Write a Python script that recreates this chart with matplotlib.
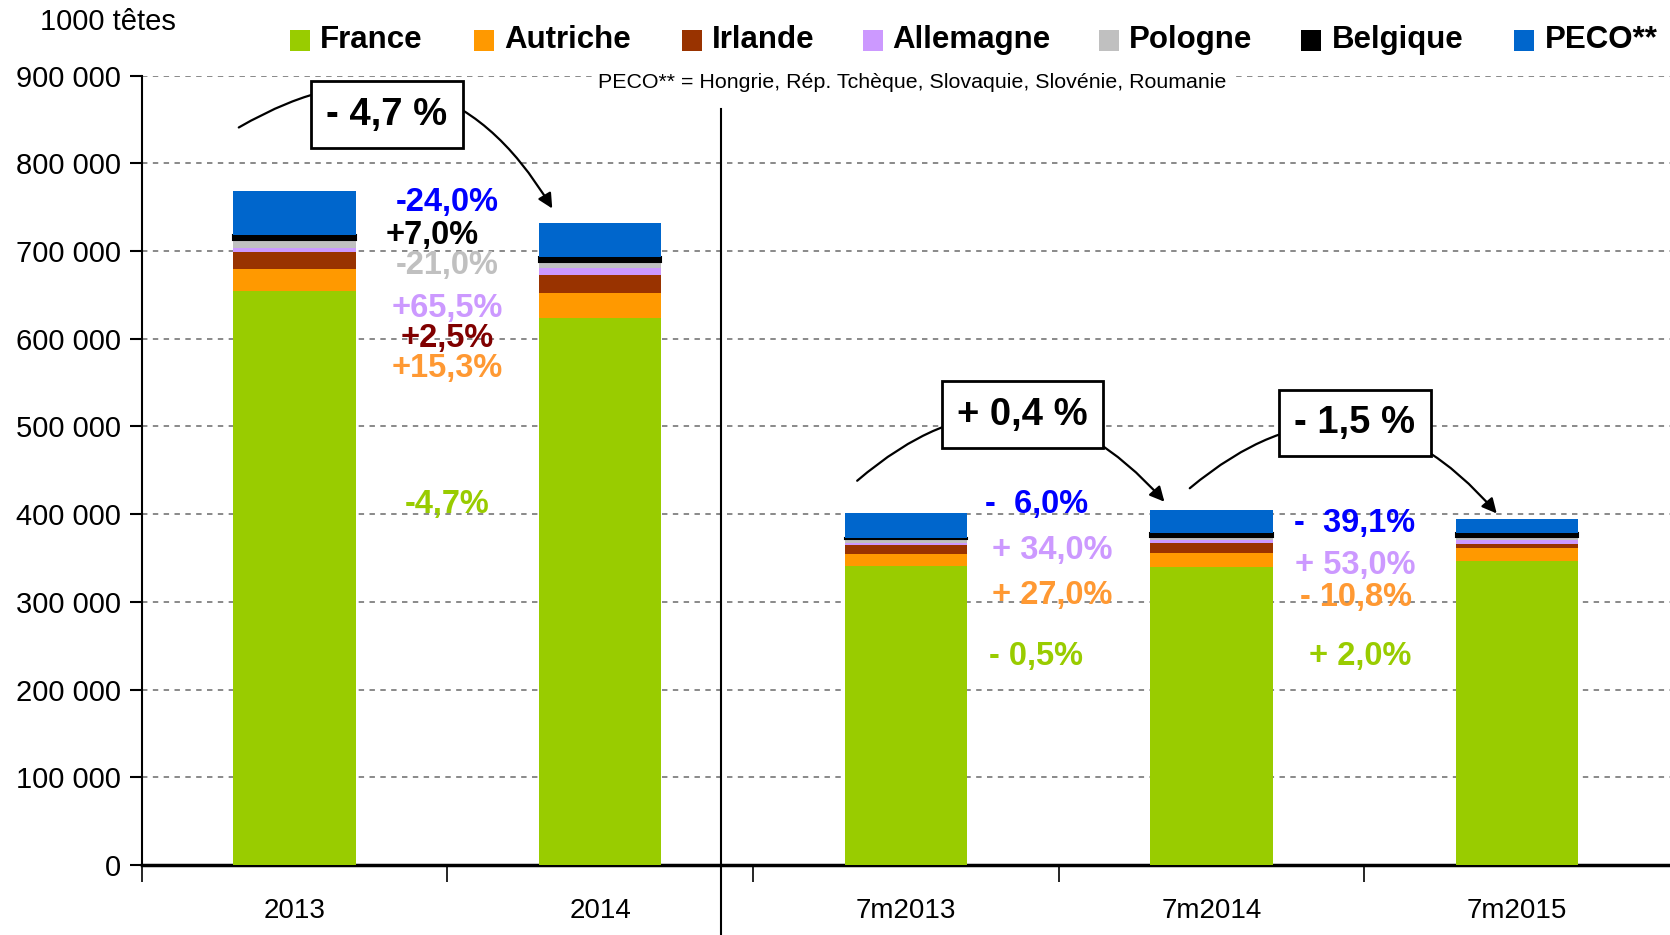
import matplotlib
matplotlib.use('Agg')
import matplotlib.pyplot as plt
from matplotlib.patches import Rectangle
from matplotlib.ticker import FixedLocator, NullFormatter, FuncFormatter

plt.rcParams['font.family'] = ['Liberation Sans', 'DejaVu Sans']

categories = ['2013', '2014', '7m2013', '7m2014', '7m2015']
france = [654500, 623700, 341300, 339600, 346400]
autriche = [25100, 28900, 13000, 16500, 14700]
irlande = [19700, 20200, 10800, 10600, 4600]
allemagne = [4600, 7600, 2500, 3400, 5200]
pologne = [8800, 7000, 4000, 3400, 3400]
belgique = [5700, 6100, 1500, 4500, 4500]
peco = [50200, 38200, 28000, 26300, 16000]

series_names = ['France', 'Autriche', 'Irlande', 'Allemagne', 'Pologne', 'Belgique', 'PECO**']
series_colors = ['#99CC00', '#FF9900', '#993300', '#CC99FF', '#C0C0C0', '#000000', '#0066CC']

# variation labels: (text, x, y, colour)
var_labels = [
    ('-24,0%', 0.5, 755500, '#0000FF'),
    ('+7,0%', 0.45, 718000, '#000000'),
    ('-21,0%', 0.5, 684000, '#C0C0C0'),
    ('+65,5%', 0.5, 634200, '#CC99FF'),
    ('+2,5%', 0.5, 600200, '#800000'),
    ('+15,3%', 0.5, 566200, '#FF9933'),
    ('-4,7%', 0.5, 410700, '#99CC00'),
    ('-  6,0%', 2.427, 410700, '#0000FF'),
    ('+ 34,0%', 2.479, 358500, '#CC99FF'),
    ('+ 27,0%', 2.479, 307500, '#FF9933'),
    ('- 0,5%', 2.427, 238200, '#99CC00'),
    ('-  39,1%', 3.469, 388800, '#0000FF'),
    ('+ 53,0%', 3.469, 341500, '#CC99FF'),
    ('- 10,8%', 3.473, 305000, '#FF9933'),
    ('+ 2,0%', 3.486, 238200, '#99CC00'),
]

# total variation boxes: (text, box x, box y, arrow start, arrow end)
total_boxes = [
    ('- 4,7 %', 0.302, 855500, (-0.19, 839300), (0.848, 745800)),
    ('+ 0,4 %', 2.382, 513600, (1.834, 436000), (2.852, 411800)),
    ('- 1,5 %', 3.469, 503900, (2.922, 427500), (3.939, 398400)),
]

fig = plt.figure(figsize=(16.7, 9.35), dpi=100)
ax = fig.add_axes([0.0848, 0.0749, 0.9152, 0.8442])

x = list(range(len(categories)))
bottom = [0] * len(categories)
all_series = [france, autriche, irlande, allemagne, pologne, belgique, peco]
for vals, name, col in zip(all_series, series_names, series_colors):
    if name == 'Belgique':
        ax.bar(x, vals, 0.4, bottom=bottom, color=col, edgecolor='black', linewidth=1.5, zorder=3)
    else:
        ax.bar(x, vals, 0.4, bottom=bottom, color=col, linewidth=0, zorder=3)
    bottom = [b + v for b, v in zip(bottom, vals)]

ax.set_xlim(-0.5, 4.5)
ax.set_ylim(0, 900000)

ax.set_yticks(range(0, 900001, 100000))
ax.yaxis.set_major_formatter(FuncFormatter(lambda v, p: '{:,}'.format(int(v)).replace(',', ' ')))
ax.yaxis.grid(True, linestyle=(0, (3, 3)), color='#808080', linewidth=1.3, zorder=0)
ax.tick_params(axis='y', labelsize=21, length=9, width=1.5, direction='out', pad=6)

ax.xaxis.set_major_locator(FixedLocator([-0.5, 0.5, 1.5, 2.5, 3.5]))
ax.xaxis.set_major_formatter(NullFormatter())
ax.xaxis.set_minor_locator(FixedLocator(x))
ax.set_xticklabels(categories, minor=True)
ax.tick_params(axis='x', which='major', length=12, width=1.2, direction='out')
ax.tick_params(axis='x', which='minor', length=0, labelsize=20, pad=24)

ax.spines['top'].set_visible(False)
ax.spines['right'].set_visible(False)
ax.spines['left'].set_linewidth(1.5)
ax.spines['bottom'].set_linewidth(2.5)

# separator between annual and 7-month data
ax.plot([1.395, 1.395], [862000, -80000], color='black', linewidth=1.5, clip_on=False, zorder=4)

for txt, tx, ty, col in var_labels:
    ax.text(tx, ty, txt, color=col, fontsize=23.5, fontweight='bold', ha='center', va='center', zorder=5)

for txt, bx, by, start, end in total_boxes:
    ax.annotate('', xy=end, xytext=start,
                arrowprops=dict(arrowstyle='-|>', color='black', lw=1.6, mutation_scale=22,
                                connectionstyle='arc3,rad=-0.5'), zorder=5)
    ax.text(bx, by, txt, fontsize=27.5, fontweight='bold', ha='center', va='center', zorder=6,
            bbox=dict(boxstyle='square,pad=0.4', facecolor='white', edgecolor='black', linewidth=2))

ax.text(2.022, 892700, 'PECO** = Hongrie, Rép. Tchèque, Slovaquie, Slovénie, Roumanie',
        fontsize=15.4, ha='center', va='center', zorder=5,
        bbox=dict(boxstyle='square,pad=0.3', facecolor='white', edgecolor='none'))

fig.text(0.0644, 0.976, '1000 têtes', fontsize=21, ha='center', va='center')

# legend
legend_x = [272, 445, 640, 810, 1032, 1222, 1422]
for lx, name, col in zip(legend_x, series_names, series_colors):
    x0 = lx * 1.065 / 1670
    fig.patches.append(Rectangle((x0, 0.945), 20 / 1670, 21 / 935, transform=fig.transFigure,
                                 facecolor=col, edgecolor='none'))
    fig.text(x0 + 30 / 1670, 0.957, name, fontsize=22.5, fontweight='bold', ha='left', va='center')

plt.savefig('out.png', dpi=100)
